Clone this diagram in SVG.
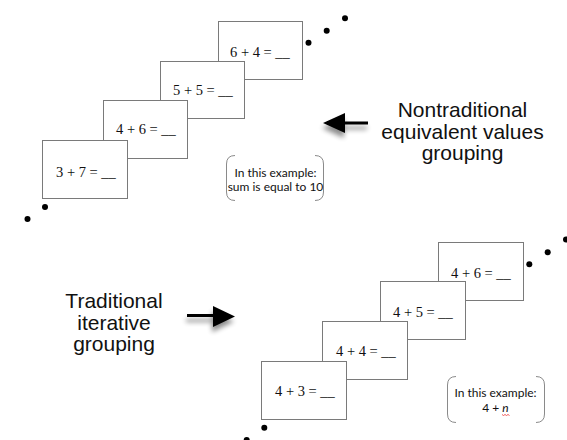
<svg xmlns="http://www.w3.org/2000/svg" width="567" height="440" viewBox="0 0 567 440">
<defs>
<style>
.card{fill:#fff;stroke:#7a7a7a;stroke-width:1}
.eq{font-family:"Liberation Serif","Times New Roman",serif;font-size:14.5px;fill:#111}
.lbl{font-family:"Liberation Sans",Arial,sans-serif;font-size:21px;fill:#111;text-anchor:middle}
.note{font-family:Lato,"Open Sans",sans-serif;font-size:12px;fill:#111;text-anchor:middle}
.brk{fill:none;stroke:#8a8a8a;stroke-width:1}
.dot{fill:#000}
.arrow{fill:#000}
</style>
<filter id="sh" x="-30%" y="-50%" width="160%" height="220%">
<feGaussianBlur in="SourceAlpha" stdDeviation="2.5"/>
<feOffset dx="-1" dy="5" result="b"/>
<feComponentTransfer><feFuncA type="linear" slope="0.45"/></feComponentTransfer>
<feMerge><feMergeNode/><feMergeNode in="SourceGraphic"/></feMerge>
</filter>
</defs>

<!-- Top group: nontraditional -->
<g id="card-6-4"><rect class="card" x="218.5" y="21.5" width="84" height="58"/><text class="eq" x="230" y="57">6 + 4 = __</text></g>
<g id="card-5-5"><rect class="card" x="160.5" y="61.5" width="84" height="57"/><text class="eq" x="173" y="95">5 + 5 = __</text></g>
<g id="card-4-6"><rect class="card" x="103.5" y="100.5" width="84" height="58"/><text class="eq" x="116" y="134">4 + 6 = __</text></g>
<g id="card-3-7"><rect class="card" x="42.5" y="140.5" width="85" height="58"/><text class="eq" x="56" y="177">3 + 7 = __</text></g>

<g id="note-top">
<path class="brk" d="M235,155.5 Q226.5,155.5 226.5,164 V192 Q226.5,200.5 235,200.5"/>
<path class="brk" d="M315,155.5 Q323.5,155.5 323.5,164 V192 Q323.5,200.5 315,200.5"/>
<text class="note" x="275.5" y="177">In this example:</text>
<text class="note" x="275.5" y="190.5">sum is equal to 10</text>
</g>

<g id="label-nontraditional">
<text class="lbl" x="462.5" y="117">Nontraditional</text>
<text class="lbl" x="462.5" y="138.5">equivalent values</text>
<text class="lbl" x="462.5" y="160">grouping</text>
</g>

<!-- Bottom group: traditional -->
<g id="card-4-6b"><rect class="card" x="438.5" y="242.5" width="85" height="58"/><text class="eq" x="451" y="278">4 + 6 = __</text></g>
<g id="card-4-5"><rect class="card" x="380.5" y="281.5" width="85" height="58"/><text class="eq" x="393" y="317">4 + 5 = __</text></g>
<g id="card-4-4"><rect class="card" x="322.5" y="321.5" width="85" height="58"/><text class="eq" x="336" y="356">4 + 4 = __</text></g>
<g id="card-4-3"><rect class="card" x="261.5" y="361.5" width="85" height="58"/><text class="eq" x="275" y="396">4 + 3 = __</text></g>

<g id="note-bottom">
<path class="brk" d="M456,376.5 Q447.5,376.5 447.5,385 V414 Q447.5,422.5 456,422.5"/>
<path class="brk" d="M536,376.5 Q544.5,376.5 544.5,385 V414 Q544.5,422.5 536,422.5"/>
<text class="note" x="495.5" y="396.5">In this example:</text>
<text class="note" x="495.5" y="412">4 + <tspan font-style="italic">n</tspan></text>
<path d="M502,414.5 l1.5,1 l1.5,-1 l1.5,1 l1.5,-1 l1.5,1" fill="none" stroke="#e33" stroke-width="0.8"/>
</g>

<g id="label-traditional">
<text class="lbl" x="114" y="308">Traditional</text>
<text class="lbl" x="114" y="330">iterative</text>
<text class="lbl" x="114" y="351">grouping</text>
</g>

<g id="connectors">
<g filter="url(#sh)">
<path class="arrow" d="M368,121.5 H345 V113 L323,123 L345,133 V124.5 H368 Z"/>
</g>
<g filter="url(#sh)">
<path class="arrow" d="M187,314 H213 V306 L235,316.5 L213,327 V317 H187 Z"/>
</g>
</g>

<g id="dots">
<circle class="dot" cx="308.5" cy="42.7" r="3"/>
<circle class="dot" cx="326.7" cy="30.7" r="3"/>
<circle class="dot" cx="345" cy="18.3" r="3"/>
<circle class="dot" cx="45" cy="207" r="3"/>
<circle class="dot" cx="27.5" cy="219" r="3"/>
<circle class="dot" cx="529.3" cy="264.3" r="3"/>
<circle class="dot" cx="547.7" cy="252.3" r="3"/>
<circle class="dot" cx="566" cy="239.5" r="3"/>
<circle class="dot" cx="264.3" cy="427.7" r="3"/>
<circle class="dot" cx="246.7" cy="440" r="3"/>
</g>
</svg>
